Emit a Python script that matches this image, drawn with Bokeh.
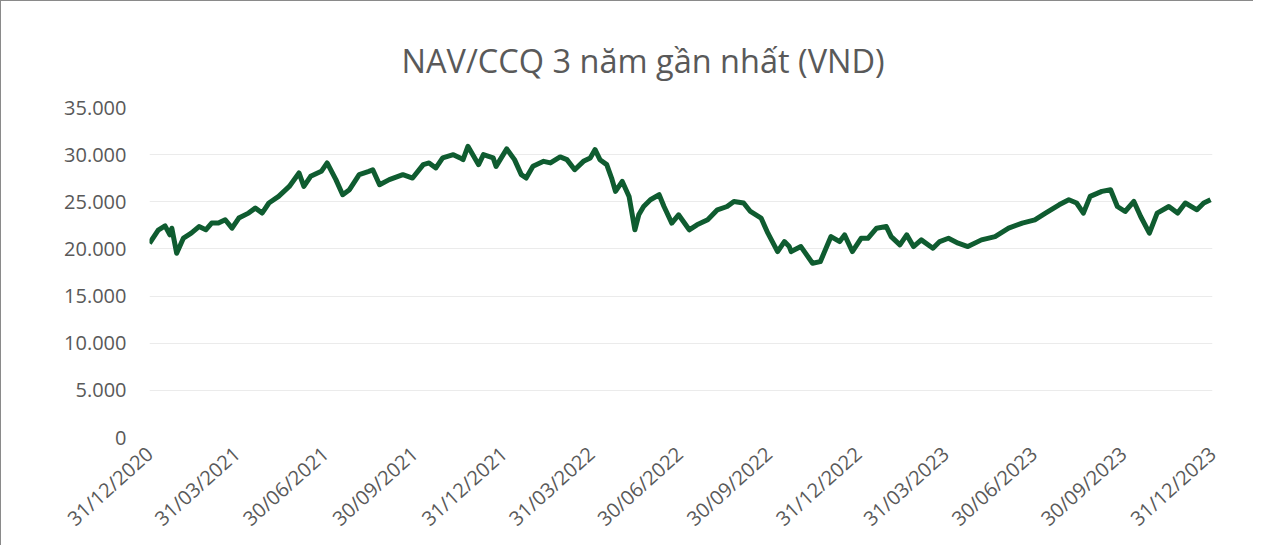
import pandas as pd
from bokeh.plotting import figure
from bokeh.models import (Range1d, FixedTicker, DatetimeTickFormatter,
                          CustomJSTickFormatter, ColumnDataSource)
from bokeh.embed import file_html
from bokeh.resources import INLINE

title_text = "NAV/CCQ 3 năm gần nhất (VND)"

dates = [
    "2020-12-31", "2021-01-09", "2021-01-16", "2021-01-21", "2021-01-23", "2021-01-28",
    "2021-02-04", "2021-02-12", "2021-02-20", "2021-02-27", "2021-03-05", "2021-03-12",
    "2021-03-19", "2021-03-26", "2021-04-02", "2021-04-12", "2021-04-19", "2021-04-26",
    "2021-05-03", "2021-05-13", "2021-05-24", "2021-06-03", "2021-06-08", "2021-06-15",
    "2021-06-26", "2021-07-02", "2021-07-11", "2021-07-18", "2021-07-25", "2021-08-04",
    "2021-08-14", "2021-08-18", "2021-08-25", "2021-09-04", "2021-09-18", "2021-09-28",
    "2021-10-09", "2021-10-15", "2021-10-22", "2021-10-29", "2021-11-09", "2021-11-16",
    "2021-11-19", "2021-11-24", "2021-12-05", "2021-12-10", "2021-12-20", "2021-12-23",
    "2022-01-03", "2022-01-11", "2022-01-18", "2022-01-23", "2022-01-30", "2022-02-10",
    "2022-02-17", "2022-02-27", "2022-03-06", "2022-03-14", "2022-03-23", "2022-03-30",
    "2022-04-04", "2022-04-09", "2022-04-16", "2022-04-21", "2022-04-25", "2022-05-02",
    "2022-05-09", "2022-05-15", "2022-05-19", "2022-05-24", "2022-05-31", "2022-06-09",
    "2022-06-14", "2022-06-22", "2022-06-29", "2022-07-10", "2022-07-18", "2022-07-29",
    "2022-08-08", "2022-08-18", "2022-08-25", "2022-09-04", "2022-09-11", "2022-09-22",
    "2022-09-29", "2022-10-09", "2022-10-16", "2022-10-21", "2022-10-23", "2022-11-02",
    "2022-11-14", "2022-11-22", "2022-12-03", "2022-12-12", "2022-12-17", "2022-12-25",
    "2023-01-03", "2023-01-10", "2023-01-19", "2023-01-29", "2023-02-03", "2023-02-12",
    "2023-02-19", "2023-02-26", "2023-03-06", "2023-03-18", "2023-03-25", "2023-04-03",
    "2023-04-13", "2023-04-23", "2023-05-07", "2023-05-21", "2023-06-04", "2023-06-18",
    "2023-07-01", "2023-07-12", "2023-07-26", "2023-08-05", "2023-08-13", "2023-08-20",
    "2023-08-27", "2023-09-08", "2023-09-17", "2023-09-24", "2023-10-02", "2023-10-11",
    "2023-10-18", "2023-10-27", "2023-11-04", "2023-11-16", "2023-11-25", "2023-12-03",
    "2023-12-15", "2023-12-22", "2023-12-29",
]

nav = [
    20600, 22000, 22450, 21500, 22200, 19550,
    21150, 21670, 22370, 22030, 22740, 22740,
    23090, 22200, 23270, 23800, 24330, 23800,
    24870, 25570, 26630, 28060, 26630, 27700,
    28230, 29120, 27350, 25750, 26280, 27880,
    28230, 28400, 26810, 27350, 27880, 27520,
    28940, 29120, 28590, 29650, 30000, 29650,
    29470, 30890, 28940, 30000, 29650, 28760,
    30610, 29470, 27880, 27520, 28760, 29290,
    29120, 29760, 29470, 28400, 29290, 29650,
    30540, 29470, 28940, 27520, 26100, 27160,
    25570, 22030, 23620, 24500, 25220, 25750,
    24500, 22740, 23620, 22030, 22560, 23090,
    24150, 24500, 25040, 24870, 23970, 23270,
    21670, 19720, 20780, 20250, 19720, 20250,
    18480, 18650, 21310, 20780, 21490, 19720,
    21130, 21130, 22200, 22370, 21310, 20430,
    21490, 20250, 20960, 20070, 20780, 21130,
    20610, 20250, 20960, 21310, 22200, 22740,
    23090, 23800, 24680, 25220, 24870, 23800,
    25570, 26100, 26280, 24500, 23970, 25040,
    23440, 21670, 23800, 24500, 23800, 24870,
    24150, 24870, 25220,
]

tick_dates = [
    "2020-12-31", "2021-03-31", "2021-06-30", "2021-09-30", "2021-12-31",
    "2022-03-31", "2022-06-30", "2022-09-30", "2022-12-31",
    "2023-03-31", "2023-06-30", "2023-09-30", "2023-12-31",
]
y_ticks = [0, 5000, 10000, 15000, 20000, 25000, 30000, 35000]

src = ColumnDataSource(dict(x=pd.to_datetime(dates), y=nav))

FONT = "Open Sans"
GREY = "#595959"

p = figure(width=1253, height=545, output_backend="svg", toolbar_location=None,
           x_axis_type="datetime",
           x_range=Range1d(pd.Timestamp(tick_dates[0]), pd.Timestamp(tick_dates[-1])),
           y_range=Range1d(0, 35000),
           min_border_left=148, min_border_right=42, min_border_top=106,
           min_border_bottom=109)

p.title.text = title_text
p.title.align = "left"
p.title.offset = 252
p.title.standoff = 50
p.title.text_font = FONT
p.title.text_font_size = "32.5px"
p.title.text_font_style = "normal"
p.title.text_color = GREY

p.line("x", "y", source=src, line_color="#0f5c30", line_width=5, line_join="round")

ms = [pd.Timestamp(d).value // 10**6 for d in tick_dates]
p.xaxis.ticker = FixedTicker(ticks=ms)
fmt = "%d/%m/%Y"
p.xaxis.formatter = DatetimeTickFormatter(
    milliseconds=fmt, seconds=fmt, minsec=fmt, minutes=fmt, hourmin=fmt, hours=fmt,
    days=fmt, months=fmt, years=fmt)
p.xaxis.major_label_orientation = 0.73
p.xaxis.major_label_standoff = 13

p.yaxis.ticker = FixedTicker(ticks=y_ticks)
p.yaxis.formatter = CustomJSTickFormatter(
    code='return tick.toFixed(0).replace(/\\B(?=(\\d{3})+(?!\\d))/g, ".");')
p.yaxis.major_label_standoff = 23

for ax in (p.xaxis, p.yaxis):
    ax.axis_line_color = None
    ax.major_tick_line_color = None
    ax.minor_tick_line_color = None
    ax.major_tick_out = 0
    ax.major_tick_in = 0
    ax.minor_tick_out = 0
    ax.major_label_text_font = FONT
    ax.major_label_text_font_size = "20px"
    ax.major_label_text_color = GREY

p.xgrid.grid_line_color = None
p.ygrid.grid_line_color = "#ebebeb"
p.ygrid.grid_line_width = 1
p.outline_line_color = None
p.background_fill_color = "white"
p.border_fill_color = "white"
p.styles = {"border-left": "1px solid #8a8a8a", "border-top": "1px solid #8a8a8a"}

open("out.html", "w").write(file_html(p, INLINE))
